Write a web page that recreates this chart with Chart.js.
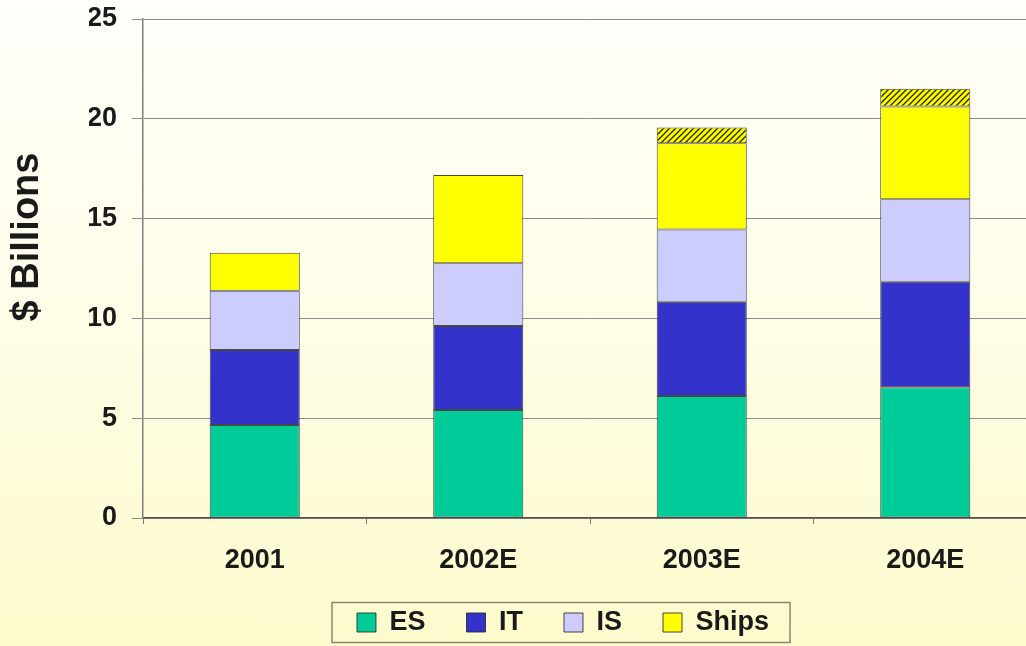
<!DOCTYPE html>
<html lang="en">
<head>
    <meta charset="UTF-8">
    <title>Revenue by Segment</title>
    <script src="https://cdn.jsdelivr.net/npm/chart.js"></script>
    <style>
        html, body {
            margin: 0;
            padding: 0;
            width: 1026px;
            height: 646px;
            overflow: hidden;
            background: linear-gradient(to bottom, #fffffb 0%, #fefde9 45%, #fdfbcc 100%);
            font-family: "Liberation Sans", Arial, sans-serif;
        }

        .chart-container {
            position: absolute;
            left: 0;
            top: 0;
            width: 1060px;
            height: 646px;
        }
    </style>
</head>
<body>
    <div class="chart-container">
        <canvas id="chart"></canvas>
    </div>

    <script>
        const categories = ['2001', '2002E', '2003E', '2004E'];
        const esValues = [4.66, 5.41, 6.11, 6.55];
        const itValues = [3.76, 4.21, 4.72, 5.29];
        const isValues = [2.97, 3.14, 3.63, 4.13];
        const shipsValues = [1.90, 4.42, 4.31, 4.64];
        const shipsExtraValues = [null, null, 0.80, 0.89];
        const yTicks = [0, 5, 10, 15, 20, 25];

        const FONT = '"Liberation Sans", Arial, sans-serif';
        const OUTLINE = 'rgba(40, 40, 40, 0.85)';

        // yellow with black diagonal stripes for the top slice
        function makeHatch() {
            const s = 6;
            const c = document.createElement('canvas');
            c.width = s;
            c.height = s;
            const g = c.getContext('2d');
            g.fillStyle = '#ffff00';
            g.fillRect(0, 0, s, s);
            g.strokeStyle = '#2a2a00';
            g.lineWidth = 1.4;
            g.beginPath();
            g.moveTo(-1, s + 1); g.lineTo(s + 1, -1);
            g.moveTo(-1, 1); g.lineTo(1, -1);
            g.moveTo(s - 1, s + 1); g.lineTo(s + 1, s - 1);
            g.stroke();
            return g.createPattern(c, 'repeat');
        }

        const yTitle = {
            id: 'yTitle',
            afterDraw(chart) {
                const ctx = chart.ctx;
                ctx.save();
                ctx.translate(28, 237);
                ctx.rotate(-Math.PI / 2);
                ctx.font = 'bold 38px ' + FONT;
                ctx.fillStyle = '#1a1a1a';
                ctx.textAlign = 'center';
                ctx.textBaseline = 'middle';
                ctx.fillText('$ Billions', 0, 0);
                ctx.restore();
            }
        };

        // frame drawn around the legend row
        const legendFrame = {
            id: 'legendFrame',
            afterDraw(chart) {
                const boxes = chart.legend.legendHitBoxes;
                if (!boxes || !boxes.length) return;
                const first = boxes[0];
                const last = boxes[boxes.length - 1];
                const mid = first.top + first.height / 2;
                const ctx = chart.ctx;
                ctx.save();
                ctx.strokeStyle = '#8a8a70';
                ctx.lineWidth = 1.5;
                ctx.strokeRect(first.left - 25, mid - 20, last.left + last.width + 21 - (first.left - 25), 40);
                ctx.restore();
            }
        };

        function segment(label, data, color) {
            return {
                label: label,
                data: data,
                backgroundColor: color,
                borderColor: OUTLINE,
                borderWidth: 1,
                borderSkipped: false,
                categoryPercentage: 1,
                barPercentage: 0.403
            };
        }

        new Chart(document.getElementById('chart'), {
            type: 'bar',
            data: {
                labels: categories,
                datasets: [
                    segment('ES', esValues, '#00cc99'),
                    segment('IT', itValues, '#3333cc'),
                    segment('IS', isValues, '#ccccff'),
                    segment('Ships', shipsValues, '#ffff00'),
                    segment('Ships+', shipsExtraValues, makeHatch())
                ]
            },
            options: {
                responsive: true,
                maintainAspectRatio: false,
                animation: false,
                layout: {
                    padding: { left: 89, right: 23, top: 19, bottom: 0 }
                },
                scales: {
                    x: {
                        stacked: true,
                        offset: true,
                        afterFit(scale) { scale.height = 50; },
                        grid: {
                            offset: true,
                            drawOnChartArea: false,
                            drawTicks: true,
                            tickLength: 6,
                            color: '#777'
                        },
                        border: { color: '#555', width: 1.5 },
                        ticks: {
                            padding: 20,
                            color: '#1a1a1a',
                            font: { family: FONT, size: 27, weight: 'bold' }
                        }
                    },
                    y: {
                        stacked: true,
                        min: 0,
                        max: 25,
                        afterFit(scale) {
                            scale.width = 54;
                            scale.paddingTop = 0;
                            scale.paddingBottom = 0;
                        },
                        afterBuildTicks(scale) {
                            scale.ticks = yTicks.map(v => ({ value: v }));
                        },
                        grid: {
                            color: '#8c8c8c',
                            lineWidth: 1,
                            tickLength: 11
                        },
                        border: { color: '#808080', width: 1.5 },
                        ticks: {
                            padding: 15,
                            color: '#1a1a1a',
                            font: { family: FONT, size: 27, weight: 'bold' }
                        }
                    }
                },
                plugins: {
                    legend: {
                        position: 'bottom',
                        labels: {
                            filter: item => item.text !== 'Ships+',
                            boxWidth: 19,
                            boxHeight: 19,
                            padding: 41,
                            color: '#1a1a1a',
                            font: { family: FONT, size: 27, weight: 'bold' }
                        }
                    },
                    tooltip: { enabled: false }
                }
            },
            plugins: [yTitle, legendFrame]
        });
    </script>
</body>
</html>
